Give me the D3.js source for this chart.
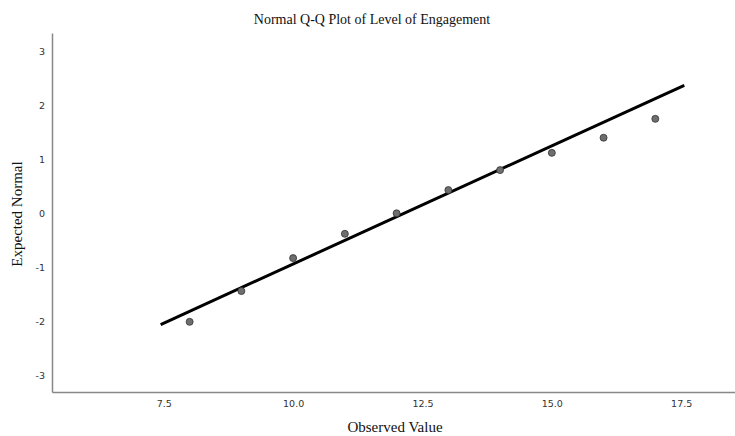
<!DOCTYPE html>
<html>
<head>
<meta charset="utf-8">
<script src="https://cdn.jsdelivr.net/npm/d3@7"></script>
<style>
  body { margin: 0; background: #fff; }
  .tick text { font-family: "DejaVu Sans", sans-serif; font-size: 9.5px; fill: #333; }
  .title, .axis-title { font-family: "Liberation Serif", serif; fill: #111; }
</style>
</head>
<body>
<svg id="chart"></svg>
<script>
// observed values and their expected normal scores
var observed = [8, 9, 10, 11, 12, 13, 14, 15, 16, 17];
var expected = [-2.0, -1.43, -0.82, -0.37, 0.01, 0.44, 0.81, 1.13, 1.41, 1.76];
// reference line end points
var lineX = [7.44, 17.56];
var lineY = [-2.05, 2.38];
var xTicks = [7.5, 10.0, 12.5, 15.0, 17.5];
var yTicks = [-3, -2, -1, 0, 1, 2, 3];

var W = 735, H = 436;
var svg = d3.select("#chart").attr("width", W).attr("height", H);

var x = d3.scaleLinear().domain([5.34, 18.54]).range([52, 735]);
var y = d3.scaleLinear().domain([-3.3, 3.35]).range([392, 33]);

var xAxis = d3.axisBottom(x).tickValues(xTicks).tickFormat(d3.format(".1f")).tickSize(0).tickPadding(8);
var yAxis = d3.axisLeft(y).tickValues(yTicks)
  .tickFormat(function(d) { return String(d); })
  .tickSize(0).tickPadding(7);

svg.append("g")
  .attr("transform", "translate(0,392)")
  .call(xAxis)
  .call(function(g) { g.select(".domain").attr("stroke", "#888").attr("stroke-width", 1.5); });

svg.append("g")
  .attr("transform", "translate(52,0)")
  .call(yAxis)
  .call(function(g) { g.select(".domain").attr("stroke", "#888").attr("stroke-width", 1.5); });

svg.append("line")
  .attr("x1", x(lineX[0])).attr("y1", y(lineY[0]))
  .attr("x2", x(lineX[1])).attr("y2", y(lineY[1]))
  .attr("stroke", "#000")
  .attr("stroke-width", 3);

svg.selectAll(".pt")
  .data(observed)
  .enter().append("circle")
  .attr("class", "pt")
  .attr("cx", function(d) { return x(d); })
  .attr("cy", function(d, i) { return y(expected[i]); })
  .attr("r", 3.5)
  .attr("fill", "#6e6e6e")
  .attr("stroke", "#333")
  .attr("stroke-width", 0.8);

svg.append("text")
  .attr("class", "title")
  .attr("x", 372)
  .attr("y", 24)
  .attr("text-anchor", "middle")
  .style("font-size", "14px")
  .text("Normal Q-Q Plot of Level of Engagement");

svg.append("text")
  .attr("class", "axis-title")
  .attr("x", 395)
  .attr("y", 432)
  .attr("text-anchor", "middle")
  .style("font-size", "15px")
  .text("Observed Value");

svg.append("text")
  .attr("class", "axis-title")
  .attr("transform", "translate(22,214) rotate(-90)")
  .attr("text-anchor", "middle")
  .style("font-size", "15px")
  .text("Expected Normal");
</script>
</body>
</html>
